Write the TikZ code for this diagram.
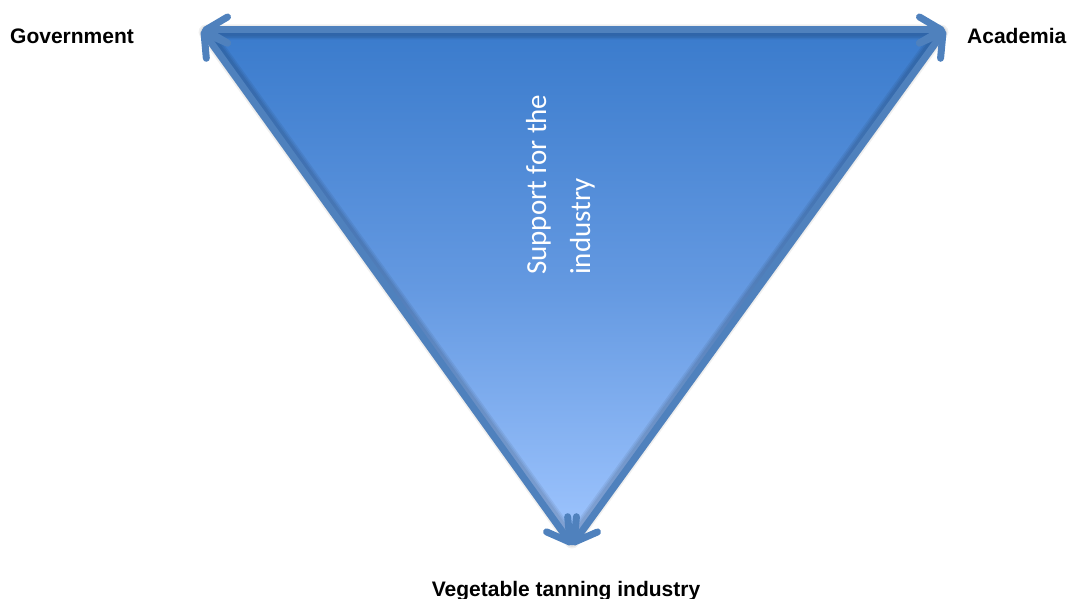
\documentclass[tikz,border=0pt]{standalone}
\usepackage{fontspec}
\setmainfont{Liberation Sans}
\newfontfamily\calibri{Carlito}
\usetikzlibrary{arrows.meta}
\definecolor{edgeblue}{RGB}{79,129,189}
\definecolor{topblue}{RGB}{58,123,204}
\definecolor{botblue}{RGB}{160,198,255}
\tikzset{
  barb/.tip={Straight Barb[length=22pt,width=26pt,line width=7pt,round]},
  edgearrow/.style={draw=edgeblue, line width=7pt, line cap=round, barb-barb},
  shadowline/.style={draw=black, line cap=round, line join=round, opacity=0.06},
  corner/.style={font=\bfseries\fontsize{21}{25}\selectfont, inner sep=0pt},
  supporttext/.style={font=\calibri\fontsize{29}{35}\selectfont, text=white, rotate=90, inner sep=0pt, anchor=base west}
}
\begin{document}
\begin{tikzpicture}[x=1pt,y=-1pt]
\useasboundingbox (0,0) rectangle (1068,599);
\coordinate (tl) at (202,30);
\coordinate (tr) at (945,30);
\coordinate (bt) at (572,545);
% fill
\shade[top color=topblue, bottom color=botblue, middle color={rgb,255:red,100;green,153;blue,225}]
  (tl) -- (tr) -- (bt) -- cycle;
% soft shadows
\foreach \w in {15,12,9}{
  \draw[shadowline, line width=\w pt, shift={(0,4)}] ([shift={(4,2)}]tl) -- ([shift={(-4,2)}]tr) -- ([shift={(0,-4)}]bt) -- cycle;
}
% edges
\draw[edgearrow] (tl) -- (tr);
\draw[edgearrow] (tl) -- (bt);
\draw[edgearrow] (tr) -- (bt);
% labels
\node[corner, anchor=base west] (gov) at (10,44) {Government};
\node[corner, anchor=base west] (aca) at (967,44) {Academia};
\node[corner, anchor=base] (veg) at (566,596) {Vegetable tanning industry};
\node[supporttext] (sup1) at (546,275) {Support for the};
\node[supporttext] (sup2) at (590,275) {industry};
\end{tikzpicture}
\end{document}
